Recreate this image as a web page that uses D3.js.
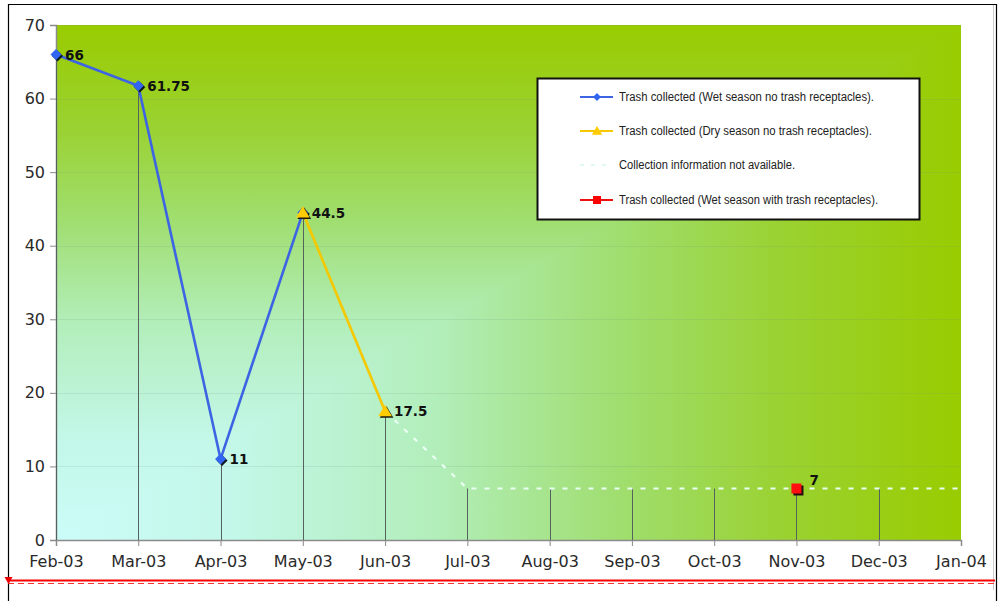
<!DOCTYPE html>
<html>
<head>
<meta charset="utf-8">
<script src="https://cdn.jsdelivr.net/npm/d3@7"></script>
<style>
  html, body { margin: 0; padding: 0; background: #fff; }
  svg { display: block; }
</style>
</head>
<body>
<svg id="chart" width="1001" height="601"></svg>
<script>
// ---- data ----
const months = ["Feb-03","Mar-03","Apr-03","May-03","Jun-03","Jul-03","Aug-03","Sep-03","Oct-03","Nov-03","Dec-03","Jan-04"];
const yTicks = [0,10,20,30,40,50,60,70];

const wetMonths = ["Feb-03","Mar-03","Apr-03","May-03"];
const wetValues = [66, 61.75, 11, 44.5];

const dryMonths = ["May-03","Jun-03"];
const dryValues = [44.5, 17.5];

const naMonths = ["Jun-03","Jul-03","Aug-03","Sep-03","Oct-03","Nov-03","Dec-03","Jan-04"];
const naValues = [17.5, 7, 7, 7, 7, 7, 7, 7];

const recMonths = ["Nov-03"];
const recValues = [7];

const legendLabels = [
  "Trash collected (Wet season no trash receptacles).",
  "Trash collected (Dry season no trash receptacles).",
  "Collection information not available.",
  "Trash collected (Wet season with trash receptacles)."
];

(function () {
const svg = d3.select("#chart");
const pL = 56, pR = 961, pT = 25, pB = 540;

const x = d3.scalePoint().domain(months).range([pL, pR]);
const y = d3.scaleLinear().domain([0, 70]).range([pB, pT]);

const zip = (ms, vs) => ms.map((m, i) => ({ m, v: vs[i] }));
const wet = zip(wetMonths, wetValues);
const dry = zip(dryMonths, dryValues);
const na = zip(naMonths, naValues);
const rec = zip(recMonths, recValues);

// ---- outer frame ----
svg.append("line").attr("x1", 8.5).attr("x2", 8.5).attr("y1", 4).attr("y2", 601).attr("stroke", "#000").attr("stroke-width", 1.2);
svg.append("line").attr("x1", 8).attr("x2", 997).attr("y1", 4.5).attr("y2", 4.5).attr("stroke", "#000").attr("stroke-width", 1.2);
svg.append("line").attr("x1", 993.5).attr("x2", 993.5).attr("y1", 5).attr("y2", 590).attr("stroke", "#ccc").attr("stroke-width", 1);
svg.append("line").attr("x1", 996.5).attr("x2", 996.5).attr("y1", 4).attr("y2", 601).attr("stroke", "#000").attr("stroke-width", 1.2);

// ---- gradient background (rectangular from bottom-left corner) ----
const defs = svg.append("defs");
const stops = [
  [0, "#ccfcf8"], [0.2, "#c3f7e8"], [0.42, "#b2eeba"], [0.62, "#a0de70"], [0.8, "#9ad232"], [1, "#99cc00"]
];
const gh = defs.append("linearGradient").attr("id", "gh").attr("gradientUnits", "userSpaceOnUse")
  .attr("x1", pL).attr("y1", 0).attr("x2", pR).attr("y2", 0);
const gv = defs.append("linearGradient").attr("id", "gv").attr("gradientUnits", "userSpaceOnUse")
  .attr("x1", 0).attr("y1", pB).attr("x2", 0).attr("y2", pT);
stops.forEach(([o, c]) => {
  gh.append("stop").attr("offset", o).attr("stop-color", c);
  gv.append("stop").attr("offset", o).attr("stop-color", c);
});
svg.append("rect").attr("x", pL).attr("y", pT).attr("width", pR - pL).attr("height", pB - pT)
  .attr("fill", "url(#gh)");
svg.append("polygon")
  .attr("points", `${pL},${pB} ${pL},${pT} ${pR},${pT}`)
  .attr("fill", "url(#gv)");

// ---- gridlines ----
svg.append("g").selectAll("line").data(yTicks.filter(d => d > 0)).join("line")
  .attr("x1", pL).attr("x2", pR)
  .attr("y1", d => Math.round(y(d)) + 0.5).attr("y2", d => Math.round(y(d)) + 0.5)
  .attr("stroke", "rgba(120,140,130,0.16)").attr("stroke-width", 1);

// ---- axes ----
const yAxis = svg.append("g").attr("transform", `translate(${pL},0)`)
  .call(d3.axisLeft(y).tickValues(yTicks).tickSize(6).tickPadding(5));
const xAxis = svg.append("g").attr("transform", `translate(0,${pB})`)
  .call(d3.axisBottom(x).tickSize(6).tickPadding(10));
[yAxis, xAxis].forEach(g => {
  g.select(".domain").attr("stroke", "#8a8a8a").attr("stroke-width", 1.5);
  g.selectAll(".tick line").attr("stroke", "#8a8a8a").attr("stroke-width", 1);
  g.selectAll("text").attr("font-family", "DejaVu Sans, Verdana, sans-serif")
    .attr("font-size", 16).attr("fill", "#2a2a2a");
});

// ---- drop lines ----
const allPts = [...wet, ...dry, ...na, ...rec];
const dropMonths = months.slice(0, months.length - 1);
const drops = dropMonths.map(m => ({ m, v: d3.max(allPts.filter(p => p.m === m), p => p.v) }))
  .filter(d => d.v != null);
svg.append("g").selectAll("line").data(drops).join("line")
  .attr("x1", d => Math.round(x(d.m)) + 0.5).attr("x2", d => Math.round(x(d.m)) + 0.5)
  .attr("y1", d => y(d.v)).attr("y2", pB)
  .attr("stroke", "#56625e").attr("stroke-width", 1);

// ---- lines ----
const line = d3.line().x(d => x(d.m)).y(d => y(d.v));
svg.append("path").datum(na).attr("d", line).attr("fill", "none")
  .attr("stroke", "#eafff4").attr("stroke-width", 2.2).attr("stroke-dasharray", "5,8");
svg.append("path").datum(wet).attr("d", line).attr("fill", "none")
  .attr("stroke", "#3d64e3").attr("stroke-width", 2.6).attr("stroke-linejoin", "round");
svg.append("path").datum(dry).attr("d", line).attr("fill", "none")
  .attr("stroke", "#f5c800").attr("stroke-width", 2.6);

// ---- markers ----
const diamond = (cx, cy, r) => `M${cx},${cy - r}L${cx + r},${cy}L${cx},${cy + r}L${cx - r},${cy}Z`;
const tri = (cx, cy, r) => `M${cx},${cy - r}L${cx + r * 1.05},${cy + r * 0.75}L${cx - r * 1.05},${cy + r * 0.75}Z`;

const mW = svg.append("g");
wet.forEach(d => {
  mW.append("path").attr("d", diamond(x(d.m) + 1.5, y(d.v) + 1.5, 5.5)).attr("fill", "#101820");
  mW.append("path").attr("d", diamond(x(d.m), y(d.v), 5.5)).attr("fill", "#3366f0");
});
const mD = svg.append("g");
dry.forEach(d => {
  mD.append("path").attr("d", tri(x(d.m) + 1.5, y(d.v) + 1.5, 6.5)).attr("fill", "#1a1a10");
  mD.append("path").attr("d", tri(x(d.m), y(d.v), 6.5)).attr("fill", "#ffcc00");
});
const mR = svg.append("g");
rec.forEach(d => {
  mR.append("rect").attr("x", x(d.m) - 4.5 + 1.5).attr("y", y(d.v) - 4.5 + 1.5).attr("width", 10).attr("height", 10).attr("fill", "#201010");
  mR.append("rect").attr("x", x(d.m) - 5).attr("y", y(d.v) - 5).attr("width", 10).attr("height", 10).attr("fill", "#ff1010");
});

// ---- data labels ----
const lbl = svg.append("g").attr("font-family", "DejaVu Sans, Verdana, sans-serif")
  .attr("font-weight", "bold").attr("font-size", 13.5).attr("fill", "#111");
[...wet, ...dry.slice(1)].forEach(d => {
  lbl.append("text").attr("x", x(d.m) + 9).attr("y", y(d.v)).attr("dy", "0.38em").text(d.v);
});
rec.forEach(d => {
  lbl.append("text").attr("x", x(d.m) + 13).attr("y", y(d.v) - 9).attr("dy", "0.38em").text(d.v);
});

// ---- legend ----
const lg = svg.append("g").attr("transform", "translate(537,78)");
lg.append("rect").attr("x", 0.5).attr("y", 0.5).attr("width", 382).attr("height", 141)
  .attr("fill", "#fff").attr("stroke", "#111").attr("stroke-width", 2);
const rowsY = [19, 53, 87, 122];
const lens = [255, 253, 176, 259];
const lc = ["#3d64e3", "#f5c800", "#e6fff6", "#ee1111"];
rowsY.forEach((ry, i) => {
  const s = lg.append("line").attr("x1", 43).attr("x2", 76).attr("y1", ry).attr("y2", ry)
    .attr("stroke", lc[i]).attr("stroke-width", 2.2);
  if (i === 2) s.attr("stroke-dasharray", "4,7").attr("stroke", "#dff8f0");
  if (i === 0) lg.append("path").attr("d", diamond(60, ry, 4)).attr("fill", "#3366f0");
  if (i === 1) lg.append("path").attr("d", tri(60, ry, 5)).attr("fill", "#ffcc00");
  if (i === 3) lg.append("rect").attr("x", 56).attr("y", ry - 4).attr("width", 8).attr("height", 8).attr("fill", "#ff0000");
  lg.append("text").attr("x", 82).attr("y", ry).attr("dy", "0.36em")
    .attr("font-family", "Liberation Sans, Arial, sans-serif").attr("font-size", 12)
    .attr("textLength", lens[i]).attr("lengthAdjust", "spacingAndGlyphs")
    .attr("fill", "#222").text(legendLabels[i]);
});

// ---- red bottom marker line ----
svg.append("line").attr("x1", 8).attr("x2", 995).attr("y1", 580.5).attr("y2", 580.5)
  .attr("stroke", "#ff0000").attr("stroke-width", 2);
svg.append("line").attr("x1", 8).attr("x2", 995).attr("y1", 583.5).attr("y2", 583.5)
  .attr("stroke", "#ff3030").attr("stroke-width", 1).attr("stroke-dasharray", "6,4");
svg.append("path").attr("d", "M4.5,577L12.5,577L8.5,584Z").attr("fill", "#ee0000");
})();
</script>
</body>
</html>
